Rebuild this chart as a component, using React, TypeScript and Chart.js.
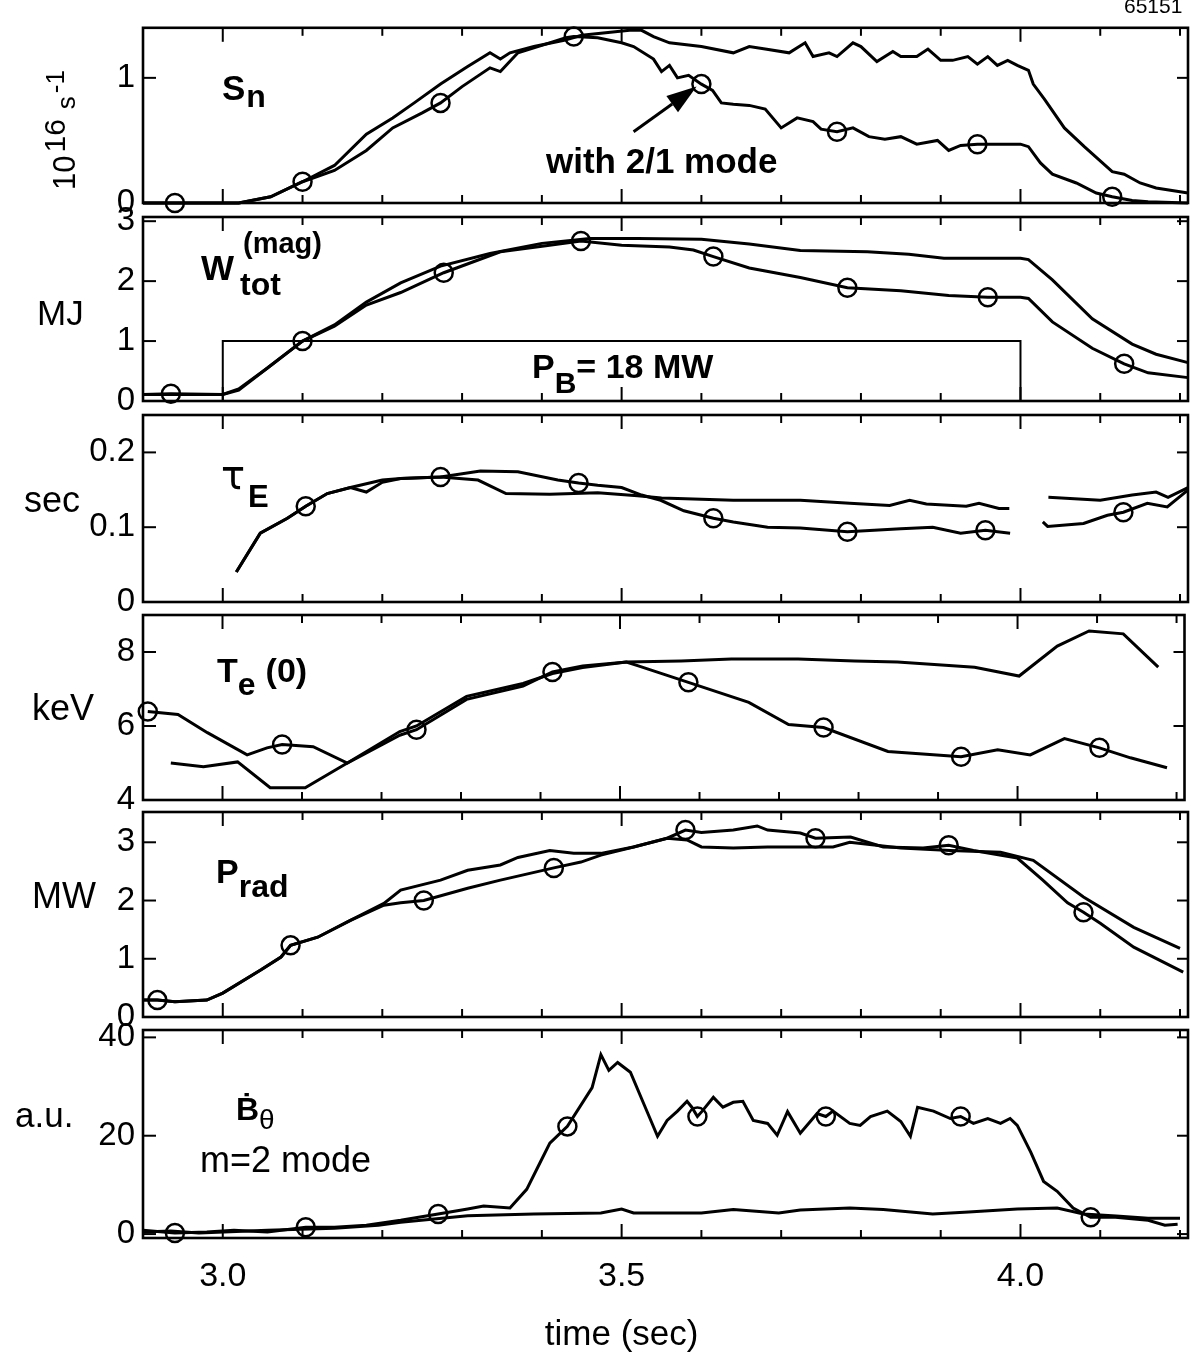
import React, { useEffect, useRef } from 'react';
import { Chart, registerables } from 'chart.js';

Chart.register(...registerables);

const W = 1196;
const H = 1361;
const FONT = '"Liberation Sans", Arial, Helvetica, sans-serif';

// ---------------- shared x axis ----------------
const xMin = 2.9;
const xMax = 4.21;
const xMinorStep = 0.1;
const xTickLabels = ['3.0', '3.5', '4.0'];
const xTitle = 'time (sec)';

// ---------------- S_n (10^16 s^-1) ----------------
const snRefT = [2.90, 3.02, 3.06, 3.10, 3.14, 3.18, 3.213, 3.24, 3.273, 3.307, 3.335, 3.348, 3.36, 3.39, 3.428, 3.45, 3.48, 3.51, 3.525, 3.54, 3.56, 3.60, 3.64, 3.66, 3.68, 3.71, 3.73, 3.74, 3.76, 3.77, 3.79, 3.80, 3.82, 3.84, 3.85, 3.87, 3.884, 3.90, 3.915, 3.934, 3.946, 3.959, 3.971, 3.984, 3.996, 4.01, 4.016, 4.03, 4.055, 4.08, 4.115, 4.13, 4.15, 4.17, 4.21];
const snRefV = [0, 0, 0.05, 0.17, 0.30, 0.55, 0.68, 0.80, 0.95, 1.09, 1.20, 1.15, 1.20, 1.25, 1.30, 1.34, 1.36, 1.38, 1.38, 1.33, 1.28, 1.25, 1.20, 1.25, 1.23, 1.20, 1.28, 1.17, 1.20, 1.17, 1.28, 1.25, 1.13, 1.21, 1.17, 1.17, 1.23, 1.14, 1.14, 1.17, 1.11, 1.17, 1.10, 1.14, 1.10, 1.06, 0.95, 0.83, 0.60, 0.45, 0.25, 0.23, 0.16, 0.12, 0.08];
const snModeT = [2.90, 2.94, 3.02, 3.06, 3.10, 3.14, 3.18, 3.213, 3.25, 3.273, 3.30, 3.335, 3.348, 3.37, 3.39, 3.43, 3.44, 3.47, 3.50, 3.515, 3.54, 3.55, 3.56, 3.57, 3.584, 3.60, 3.614, 3.625, 3.64, 3.66, 3.68, 3.70, 3.72, 3.74, 3.75, 3.77, 3.79, 3.81, 3.83, 3.85, 3.87, 3.896, 3.91, 3.925, 3.946, 3.975, 4.00, 4.01, 4.025, 4.04, 4.07, 4.095, 4.115, 4.14, 4.16, 4.21];
const snModeV = [0, 0, 0, 0.05, 0.17, 0.26, 0.42, 0.60, 0.72, 0.80, 0.93, 1.08, 1.05, 1.20, 1.24, 1.32, 1.33, 1.32, 1.28, 1.25, 1.15, 1.05, 1.10, 1.00, 1.02, 0.95, 0.90, 0.80, 0.79, 0.78, 0.75, 0.60, 0.68, 0.65, 0.59, 0.57, 0.60, 0.53, 0.51, 0.53, 0.47, 0.50, 0.42, 0.46, 0.47, 0.47, 0.47, 0.45, 0.32, 0.23, 0.16, 0.08, 0.05, 0.02, 0.01, 0];
const snMarkT = [2.94, 3.10, 3.273, 3.44, 3.60, 3.77, 3.946, 4.115];
const snTicks = ['0', '1'];

// ---------------- W_tot (MJ) ----------------
const wRefT = [2.90, 3.00, 3.02, 3.056, 3.10, 3.14, 3.18, 3.223, 3.273, 3.335, 3.40, 3.46, 3.52, 3.60, 3.66, 3.724, 3.808, 3.86, 3.904, 3.96, 4.00, 4.01, 4.04, 4.09, 4.14, 4.17, 4.21];
const wRefV = [0.11, 0.11, 0.20, 0.55, 1.00, 1.27, 1.65, 1.97, 2.25, 2.46, 2.63, 2.71, 2.71, 2.70, 2.62, 2.51, 2.49, 2.45, 2.38, 2.38, 2.38, 2.36, 2.02, 1.37, 0.95, 0.78, 0.64];
const wModeT = [2.90, 2.935, 3.00, 3.02, 3.056, 3.10, 3.14, 3.18, 3.223, 3.277, 3.348, 3.405, 3.449, 3.50, 3.56, 3.59, 3.615, 3.66, 3.724, 3.783, 3.85, 3.91, 3.959, 4.00, 4.01, 4.04, 4.09, 4.13, 4.16, 4.21];
const wModeV = [0.11, 0.12, 0.11, 0.18, 0.55, 1.00, 1.25, 1.60, 1.81, 2.14, 2.49, 2.59, 2.67, 2.60, 2.57, 2.52, 2.41, 2.22, 2.06, 1.89, 1.84, 1.76, 1.73, 1.73, 1.71, 1.32, 0.88, 0.62, 0.47, 0.39];
const wMarkT = [2.935, 3.10, 3.277, 3.449, 3.615, 3.783, 3.959, 4.13];
const pbT = [3.0, 3.0, 4.0, 4.0];
const pbV = [0, 1, 1, 0];
const wTicks = ['0', '1', '2', '3'];

// ---------------- tau_E (sec) ----------------
const tauRefT = [3.017, 3.047, 3.081, 3.104, 3.131, 3.16, 3.20, 3.223, 3.273, 3.32, 3.355, 3.41, 3.47, 3.52, 3.55, 3.64, 3.724, 3.786, 3.836, 3.861, 3.882, 3.932, 3.948, 3.973, 3.986, 4.00, 4.035, 4.10, 4.14, 4.17, 4.185, 4.21];
const tauRefV = [0.04, 0.092, 0.112, 0.128, 0.145, 0.153, 0.163, 0.165, 0.167, 0.163, 0.145, 0.144, 0.146, 0.142, 0.139, 0.136, 0.136, 0.132, 0.129, 0.136, 0.131, 0.128, 0.132, 0.125, 0.125, null, 0.14, 0.136, 0.143, 0.147, 0.14, 0.153];
const tauModeT = [3.017, 3.047, 3.081, 3.104, 3.131, 3.16, 3.18, 3.20, 3.223, 3.273, 3.323, 3.37, 3.42, 3.446, 3.47, 3.50, 3.525, 3.549, 3.578, 3.615, 3.64, 3.683, 3.724, 3.783, 3.85, 3.89, 3.925, 3.956, 3.987, 4.00, 4.028, 4.034, 4.079, 4.109, 4.129, 4.159, 4.184, 4.209];
const tauModeV = [0.04, 0.092, 0.112, 0.128, 0.145, 0.153, 0.147, 0.16, 0.165, 0.167, 0.175, 0.174, 0.163, 0.159, 0.156, 0.153, 0.143, 0.136, 0.122, 0.112, 0.107, 0.100, 0.099, 0.094, 0.098, 0.100, 0.092, 0.096, 0.092, null, 0.107, 0.101, 0.105, 0.116, 0.12, 0.132, 0.127, 0.149];
const tauMarkT = [3.104, 3.273, 3.446, 3.615, 3.783, 3.956, 4.129];
const tauTicks = ['0', '0.1', '0.2'];

// ---------------- Te(0) (keV) ----------------
const teRefT = [2.935, 2.976, 3.019, 3.06, 3.104, 3.157, 3.223, 3.244, 3.307, 3.378, 3.415, 3.453, 3.508, 3.577, 3.64, 3.724, 3.795, 3.849, 3.946, 4.002, 4.05, 4.09, 4.133, 4.177];
const teRefV = [5.0, 4.9, 5.03, 4.33, 4.33, 5.0, 5.85, 6.0, 6.8, 7.15, 7.42, 7.58, 7.73, 7.76, 7.81, 7.81, 7.76, 7.73, 7.59, 7.35, 8.16, 8.57, 8.49, 7.59];
const teModeT = [2.906, 2.944, 2.981, 3.031, 3.056, 3.075, 3.114, 3.157, 3.223, 3.244, 3.307, 3.378, 3.415, 3.453, 3.508, 3.524, 3.586, 3.624, 3.662, 3.712, 3.756, 3.837, 3.929, 3.975, 4.016, 4.059, 4.103, 4.142, 4.188];
const teModeV = [6.39, 6.31, 5.82, 5.22, 5.41, 5.5, 5.44, 5.0, 5.75, 5.9, 6.72, 7.08, 7.46, 7.62, 7.73, 7.62, 7.18, 6.91, 6.64, 6.04, 5.96, 5.31, 5.17, 5.36, 5.22, 5.66, 5.41, 5.14, 4.87];
const teMarkT = [2.906, 3.075, 3.244, 3.415, 3.586, 3.756, 3.929, 4.103];
const teTicks = ['4', '6', '8'];

// ---------------- P_rad (MW) ----------------
const prRefT = [2.90, 2.918, 2.94, 2.98, 3.0, 3.048, 3.073, 3.085, 3.119, 3.16, 3.202, 3.223, 3.273, 3.307, 3.348, 3.37, 3.41, 3.44, 3.474, 3.515, 3.557, 3.582, 3.60, 3.64, 3.683, 3.724, 3.765, 3.786, 3.85, 3.912, 3.975, 4.016, 4.079, 4.142, 4.20];
const prRefV = [0.29, 0.29, 0.26, 0.29, 0.41, 0.81, 1.03, 1.23, 1.37, 1.66, 1.95, 2.18, 2.35, 2.52, 2.61, 2.74, 2.86, 2.81, 2.81, 2.92, 3.07, 3.04, 2.92, 2.90, 2.92, 2.92, 2.92, 3.0, 2.90, 2.86, 2.83, 2.69, 2.06, 1.54, 1.18];
const prModeT = [2.90, 2.918, 2.94, 2.98, 3.0, 3.048, 3.073, 3.085, 3.119, 3.16, 3.202, 3.223, 3.252, 3.307, 3.348, 3.415, 3.449, 3.474, 3.515, 3.557, 3.58, 3.60, 3.64, 3.67, 3.683, 3.724, 3.743, 3.787, 3.828, 3.878, 3.91, 3.941, 3.996, 4.028, 4.059, 4.079, 4.10, 4.142, 4.204];
const prModeV = [0.29, 0.29, 0.26, 0.29, 0.41, 0.81, 1.03, 1.23, 1.37, 1.66, 1.92, 1.96, 2.0, 2.21, 2.35, 2.56, 2.66, 2.78, 2.92, 3.07, 3.21, 3.17, 3.21, 3.28, 3.21, 3.16, 3.07, 3.09, 2.92, 2.90, 2.95, 2.86, 2.73, 2.35, 1.96, 1.80, 1.61, 1.20, 0.77];
const prMarkT = [2.918, 3.085, 3.252, 3.415, 3.58, 3.743, 3.91, 4.079];
const prTicks = ['0', '1', '2', '3'];

// ---------------- dB_theta/dt (a.u.) ----------------
const bRefT = [2.90, 2.935, 2.97, 3.056, 3.14, 3.195, 3.223, 3.307, 3.39, 3.474, 3.50, 3.515, 3.60, 3.64, 3.697, 3.724, 3.786, 3.828, 3.89, 3.935, 3.996, 4.046, 4.079, 4.12, 4.16, 4.20];
const bRefV = [0.4, 0.6, 0.2, 0.8, 1.2, 1.8, 2.4, 3.7, 4.1, 4.3, 5.1, 4.3, 4.3, 5.0, 4.3, 4.9, 5.3, 5.0, 4.1, 4.5, 5.1, 5.3, 4.1, 3.7, 3.2, 3.2];
const bModeT = [2.90, 2.94, 2.98, 3.014, 3.056, 3.104, 3.14, 3.18, 3.223, 3.27, 3.307, 3.327, 3.36, 3.381, 3.398, 3.41, 3.432, 3.463, 3.474, 3.484, 3.495, 3.511, 3.528, 3.545, 3.557, 3.57, 3.582, 3.588, 3.595, 3.601, 3.615, 3.627, 3.64, 3.652, 3.665, 3.683, 3.695, 3.708, 3.724, 3.745, 3.756, 3.765, 3.786, 3.799, 3.812, 3.833, 3.85, 3.862, 3.871, 3.891, 3.912, 3.925, 3.941, 3.959, 3.975, 3.987, 3.996, 4.013, 4.029, 4.046, 4.066, 4.088, 4.119, 4.16, 4.181, 4.197];
const bModeV = [0.8, 0.2, 0.4, 0.8, 0.4, 1.4, 1.4, 1.8, 2.8, 4.1, 5.1, 5.7, 5.3, 9.1, 14.6, 18.5, 21.9, 29.8, 36.5, 33.3, 34.9, 32.9, 26.4, 19.9, 23.1, 25.0, 27.0, 25.8, 23.9, 25.0, 27.8, 25.8, 26.8, 27.0, 23.1, 22.5, 20.1, 24.9, 20.5, 24.5, 23.9, 25.0, 22.5, 22.1, 23.9, 25.0, 22.9, 19.9, 25.8, 25.0, 23.5, 23.9, 22.5, 23.5, 22.5, 23.5, 22.1, 16.6, 10.7, 8.7, 5.3, 3.4, 3.4, 2.8, 1.8, 2.0];
const bMarkT = [2.94, 3.104, 3.27, 3.432, 3.595, 3.756, 3.925, 4.088];
const bTicks = ['0', '20', '40'];

// arrow for "with 2/1 mode" (data coords on S_n panel): tail, head
const arrowT = [3.515, 3.594];
const arrowV = [0.57, 0.93];

// ---------------- helpers ----------------
type Part = { t: string; size: number; bold?: boolean; dy?: number; gap?: number; family?: string };

function font(size: number, bold?: boolean, family?: string) {
  return `${bold ? 'bold ' : ''}${size}px ${family || FONT}`;
}

function drawParts(ctx: CanvasRenderingContext2D, x: number, y: number, parts: Part[], align: 'left' | 'center' = 'left') {
  ctx.textAlign = 'left';
  ctx.textBaseline = 'alphabetic';
  let total = 0;
  for (const p of parts) {
    ctx.font = font(p.size, p.bold, p.family);
    total += ctx.measureText(p.t).width + (p.gap || 0);
  }
  let cx = align === 'center' ? x - total / 2 : x;
  for (const p of parts) {
    ctx.font = font(p.size, p.bold, p.family);
    ctx.fillText(p.t, cx, y + (p.dy || 0));
    cx += ctx.measureText(p.t).width + (p.gap || 0);
  }
}

function text(ctx: CanvasRenderingContext2D, s: string, x: number, y: number, size: number, bold?: boolean) {
  drawParts(ctx, x, y, [{ t: s, size, bold }]);
}

type Series = { t: number[]; v: (number | null)[]; markers?: number[]; width?: number };

type PanelDef = {
  top: number;
  bottom: number;
  yMin: number;
  yMax: number;
  yStep: number;
  yLabels: string[];
  series: Series[];
  xAxis?: boolean;
  extra: (ctx: CanvasRenderingContext2D, chart: any) => void;
};

const PANELS: PanelDef[] = [
  {
    top: 17, bottom: 203, yMin: 0, yMax: 1.4, yStep: 0.2, yLabels: snTicks,
    series: [
      { t: snRefT, v: snRefV },
      { t: snModeT, v: snModeV, markers: snMarkT },
    ],
    extra: (ctx, chart) => {
      // rotated y title 10^16 s^-1
      ctx.save();
      ctx.translate(75, 190);
      ctx.rotate(-Math.PI / 2);
      drawParts(ctx, 0, 0, [
        { t: '10', size: 31, gap: 3 },
        { t: '16', size: 30, dy: -10, gap: 10 },
        { t: 's', size: 26, gap: 3 },
        { t: '-1', size: 26, dy: -11 },
      ]);
      ctx.restore();
      drawParts(ctx, 222, 100, [
        { t: 'S', size: 35, bold: true, gap: 1 },
        { t: 'n', size: 32, bold: true, dy: 7 },
      ]);
      text(ctx, 'with 2/1 mode', 546, 173, 35, true);
      // arrow
      const xs = chart.scales.x;
      const ys = chart.scales.y;
      const x0 = xs.getPixelForValue(arrowT[0]);
      const y0 = ys.getPixelForValue(arrowV[0]);
      const x1 = xs.getPixelForValue(arrowT[1]);
      const y1 = ys.getPixelForValue(arrowV[1]);
      const ang = Math.atan2(y1 - y0, x1 - x0);
      const hl = 30;
      const hw = 10;
      const bx = x1 - hl * Math.cos(ang);
      const by = y1 - hl * Math.sin(ang);
      ctx.strokeStyle = '#000';
      ctx.lineWidth = 3;
      ctx.beginPath();
      ctx.moveTo(x0, y0);
      ctx.lineTo(bx, by);
      ctx.stroke();
      ctx.fillStyle = '#000';
      ctx.beginPath();
      ctx.moveTo(x1, y1);
      ctx.lineTo(bx + hw * Math.sin(ang), by - hw * Math.cos(ang));
      ctx.lineTo(bx - hw * Math.sin(ang), by + hw * Math.cos(ang));
      ctx.closePath();
      ctx.fill();
      text(ctx, '65151', 1124, 13, 21);
    },
  },
  {
    top: 217, bottom: 401, yMin: 0, yMax: 3.07, yStep: 0.5, yLabels: wTicks,
    series: [
      { t: wRefT, v: wRefV },
      { t: wModeT, v: wModeV, markers: wMarkT },
      { t: pbT, v: pbV, width: 2 },
    ],
    extra: (ctx) => {
      text(ctx, 'MJ', 37, 325, 35);
      text(ctx, 'W', 201, 280, 35, true);
      text(ctx, 'tot', 240, 295, 32, true);
      text(ctx, '(mag)', 243, 253, 29, true);
      drawParts(ctx, 532, 378, [
        { t: 'P', size: 34, bold: true },
        { t: 'B', size: 30, bold: true, dy: 15 },
        { t: '= 18 MW', size: 34, bold: true },
      ]);
    },
  },
  {
    top: 415, bottom: 602, yMin: 0, yMax: 0.25, yStep: 0.05, yLabels: tauTicks,
    series: [
      { t: tauRefT, v: tauRefV },
      { t: tauModeT, v: tauModeV, markers: tauMarkT },
    ],
    extra: (ctx) => {
      text(ctx, 'sec', 24, 512, 36);
      drawParts(ctx, 221, 489, [{ t: 'τ', size: 40, family: '"DejaVu Sans", sans-serif' }]);
      text(ctx, 'E', 248, 507, 31, true);
    },
  },
  {
    top: 615, bottom: 800, yMin: 4, yMax: 9, yStep: 0.5, yLabels: teTicks,
    series: [
      { t: teRefT, v: teRefV },
      { t: teModeT, v: teModeV, markers: teMarkT },
    ],
    extra: (ctx) => {
      text(ctx, 'keV', 32, 720, 36);
      drawParts(ctx, 217, 682, [
        { t: 'T', size: 34, bold: true },
        { t: 'e', size: 32, bold: true, dy: 13, gap: 10 },
        { t: '(0)', size: 34, bold: true },
      ]);
    },
  },
  {
    top: 812, bottom: 1017, yMin: 0, yMax: 3.52, yStep: 0.5, yLabels: prTicks,
    series: [
      { t: prRefT, v: prRefV },
      { t: prModeT, v: prModeV, markers: prMarkT },
    ],
    extra: (ctx) => {
      text(ctx, 'MW', 32, 908, 36);
      drawParts(ctx, 216, 883, [
        { t: 'P', size: 34, bold: true },
        { t: 'rad', size: 32, bold: true, dy: 14 },
      ]);
    },
  },
  {
    top: 1030, bottom: 1238, yMin: -0.8, yMax: 41.5, yStep: 10, yLabels: bTicks, xAxis: true,
    series: [
      { t: bRefT, v: bRefV },
      { t: bModeT, v: bModeV, markers: bMarkT },
    ],
    extra: (ctx, chart) => {
      text(ctx, 'a.u.', 15, 1127, 35);
      drawParts(ctx, 236, 1120, [
        { t: 'Ḃ', size: 32, bold: true },
        { t: 'θ', size: 28, dy: 9 },
      ]);
      text(ctx, 'm=2 mode', 200, 1172, 36);
      // x axis title, centred under the 3.5 tick as in the original figure
      const xs = chart.scales.x;
      drawParts(ctx, xs.getPixelForValue(3.5), 1345, [{ t: xTitle, size: 35 }], 'center');
    },
  },
];

function matchLabel(labels: string[], value: number): string | null {
  for (const l of labels) {
    if (Math.abs(parseFloat(l) - value) < 1e-6) return l;
  }
  return null;
}

function decorate(chart: any, p: PanelDef) {
  const ctx: CanvasRenderingContext2D = chart.ctx;
  const a = chart.chartArea;
  const xs = chart.scales.x;
  const ys = chart.scales.y;
  ctx.save();
  ctx.strokeStyle = '#000';
  ctx.fillStyle = '#000';
  ctx.lineWidth = 2.6;
  ctx.strokeRect(a.left, a.top, a.right - a.left, a.bottom - a.top);
  ctx.lineWidth = 2;
  const seg = (x0: number, y0: number, x1: number, y1: number) => {
    ctx.beginPath();
    ctx.moveTo(x0, y0);
    ctx.lineTo(x1, y1);
    ctx.stroke();
  };
  const n0 = Math.ceil(xMin / xMinorStep - 1e-6);
  const n1 = Math.floor(xMax / xMinorStep + 1e-6);
  for (let k = n0; k <= n1; k++) {
    const v = k * xMinorStep;
    const px = xs.getPixelForValue(v);
    if (px - a.left < 3 || a.right - px < 3) continue;
    const major = Math.abs(v * 2 - Math.round(v * 2)) < 1e-6;
    const L = major ? 14 : 8;
    seg(px, a.top, px, a.top + L);
    seg(px, a.bottom, px, a.bottom - L);
  }
  for (const t of ys.ticks) {
    const py = ys.getPixelForValue(t.value);
    if (py - a.top < 3 || a.bottom - py < 3) continue;
    const lab = matchLabel(p.yLabels, t.value) !== null;
    seg(a.left, py, a.left + (lab ? 13 : 10), py);
    seg(a.right, py, a.right - 11, py);
  }
  p.extra(ctx, chart);
  ctx.restore();
}

function buildConfig(p: PanelDef): any {
  const datasets = p.series.map((s) => {
    const marks = s.markers || [];
    return {
      data: s.t.map((x, i) => ({ x, y: s.v[i] })),
      borderColor: '#000',
      borderWidth: s.width || 3,
      tension: 0,
      spanGaps: false,
      clip: 12,
      pointStyle: 'circle',
      pointBackgroundColor: 'rgba(255,255,255,0)',
      pointBorderColor: '#000',
      pointBorderWidth: 2.5,
      pointRadius: (c: any) => {
        const r = c.raw;
        if (!r) return 0;
        return marks.some((m) => Math.abs(m - r.x) < 1e-9) ? 9 : 0;
      },
      pointHoverRadius: 0,
    };
  });
  const xScale: any = {
    type: 'linear',
    min: xMin,
    max: xMax,
    display: !!p.xAxis,
    grid: { display: false, drawTicks: false },
    border: { display: false },
    ticks: {
      stepSize: xMinorStep,
      includeBounds: false,
      autoSkip: false,
      maxRotation: 0,
      minRotation: 0,
      padding: 18,
      color: '#000',
      font: { family: FONT, size: 34 },
      callback: (v: number) => matchLabel(xTickLabels, v),
    },
    title: { display: false },
  };
  if (p.xAxis) {
    xScale.afterFit = (s: any) => {
      s.height = H - p.bottom;
    };
  }
  return {
    type: 'line',
    data: { datasets },
    options: {
      responsive: false,
      maintainAspectRatio: false,
      animation: false,
      devicePixelRatio: 1,
      events: [],
      layout: {
        padding: { left: 0, right: W - 1188, top: p.top, bottom: p.xAxis ? 0 : H - p.bottom },
      },
      plugins: { legend: { display: false }, tooltip: { enabled: false }, title: { display: false } },
      scales: {
        x: xScale,
        y: {
          type: 'linear',
          position: 'left',
          min: p.yMin,
          max: p.yMax,
          grid: { display: false, drawTicks: false },
          border: { display: false },
          ticks: {
            stepSize: p.yStep,
            includeBounds: false,
            autoSkip: false,
            padding: 8,
            color: '#000',
            font: { family: FONT, size: 33 },
            callback: (v: number) => matchLabel(p.yLabels, v),
          },
          afterFit: (s: any) => {
            s.width = 143;
          },
        },
      },
    },
    plugins: [
      {
        id: 'panelDecor',
        afterDatasetsDraw: (chart: any) => decorate(chart, p),
      },
    ],
  };
}

export default function App() {
  const refs = useRef<(HTMLCanvasElement | null)[]>([]);
  useEffect(() => {
    const charts = PANELS.map((p, i) => new Chart(refs.current[i] as HTMLCanvasElement, buildConfig(p)));
    return () => {
      charts.forEach((c) => c.destroy());
    };
  }, []);
  return (
    <div style={{ position: 'absolute', left: 0, top: 0, width: W, height: H, background: '#fff', overflow: 'hidden' }}>
      {PANELS.map((_, i) => (
        <canvas
          key={i}
          ref={(el) => {
            refs.current[i] = el;
          }}
          width={W}
          height={H}
          style={{ position: 'absolute', left: 0, top: 0, width: W, height: H }}
        />
      ))}
    </div>
  );
}
